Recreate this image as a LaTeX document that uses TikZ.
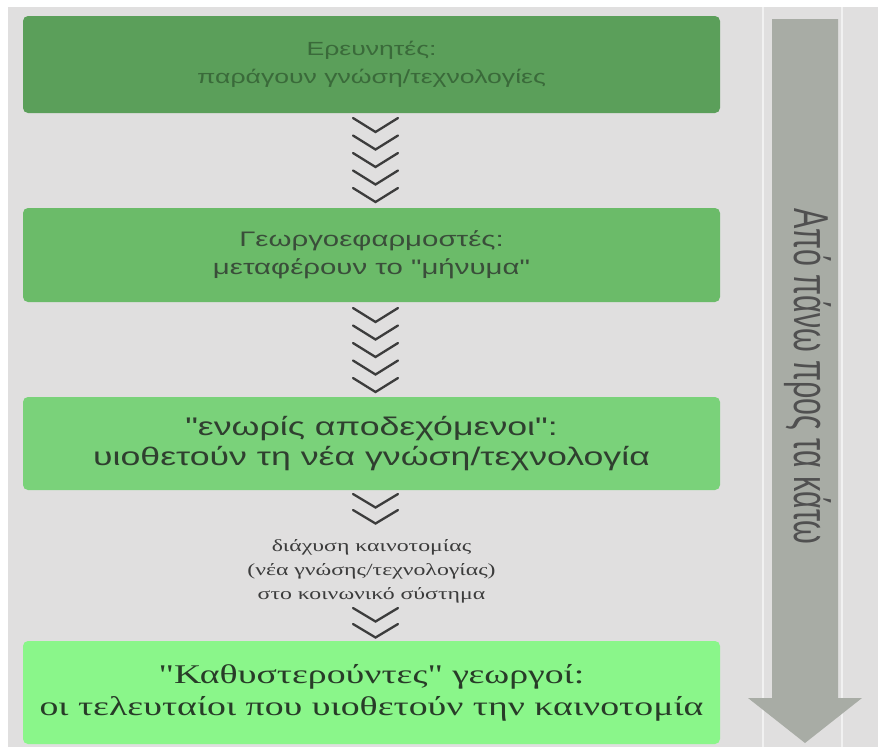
\documentclass[tikz,border=0pt]{standalone}
\usepackage{fontspec}
\setmainfont{Liberation Serif}[Ligatures=TeXOff]
\setsansfont{Liberation Sans}[Ligatures=TeXOff]
\usepackage{graphicx}
\definecolor{bgc}{HTML}{E0DFDF}
\definecolor{gone}{HTML}{5B9F5A}
\definecolor{gtwo}{HTML}{6BBB69}
\definecolor{gthree}{HTML}{7AD27A}
\definecolor{gfour}{HTML}{8AF68A}
\definecolor{tone}{HTML}{3A6A3A}
\definecolor{ttwo}{HTML}{3A4E3A}
\definecolor{tthree}{HTML}{2F3F2F}
\definecolor{tfour}{HTML}{283C28}
\definecolor{arrowc}{HTML}{A8ACA5}
\definecolor{chevc}{HTML}{3C3C3C}
\newcommand{\hstr}[1]{\scalebox{1.4}[1]{#1}}
\begin{document}
\begin{tikzpicture}[x=1pt,y=-1pt,
  boxstyle/.style={rounded corners=5pt, minimum width=697pt, inner sep=0pt, align=center},
  chev/.style={draw=chevc, line width=2.3pt, line cap=round, line join=miter},
]
\useasboundingbox (0,0) rectangle (878,747);
\fill[white] (0,0) rectangle (878,747);
\fill[bgc] (8,7) rectangle (878,747);
\draw[white!55!bgc, line width=1.2pt] (763,7) -- (763,747) (842,7) -- (842,747);

% boxes
\node[boxstyle, fill=gone, minimum height=97pt, text=tone,
      font=\sffamily\fontsize{19}{28}\selectfont] (b1) at (371.5,64.5)
  {\hstr{Ερευνητές:}\\\hstr{παράγουν γνώση/τεχνολογίες}};
\node[boxstyle, fill=gtwo, minimum height=94pt, text=ttwo,
      font=\sffamily\fontsize{21}{28}\selectfont] (b2) at (371.5,255)
  {\hstr{Γεωργοεφαρμοστές:}\\\hstr{μεταφέρουν το "μήνυμα"}};
\node[boxstyle, fill=gthree, minimum height=93pt, text=tthree,
      font=\sffamily\fontsize{25.5}{30}\selectfont] (b3) at (371.5,443.5)
  {\hstr{"ενωρίς αποδεχόμενοι":}\\\hstr{υιοθετούν τη νέα γνώση/τεχνολογία}};
\node[boxstyle, fill=gfour, minimum height=103pt, text=tfour,
      font=\rmfamily\fontsize{27}{32}\selectfont] (b4) at (371.5,692.5)
  {\hstr{"Καθυστερούντες" γεωργοί:}\\\hstr{οι τελευταίοι που υιοθετούν την καινοτομία}};

% middle text
\node[align=center, text=chevc, font=\rmfamily\fontsize{17}{24}\selectfont, inner sep=0pt] (mid) at (371.5,571)
  {\hstr{διάχυση καινοτομίας}\\\hstr{(νέα γνώσης/τεχνολογίας)}\\\hstr{στο κοινωνικό σύστημα}};

% chevrons
\foreach \i in {0,...,4} \draw[chev] (353,118+17.5*\i) -- ++(22.5,14) -- ++(22.5,-14);
\foreach \i in {0,...,4} \draw[chev] (353,308+17.5*\i) -- ++(22.5,14) -- ++(22.5,-14);
\foreach \i in {0,1} \draw[chev] (353,494+16*\i) -- ++(22.5,13.5) -- ++(22.5,-13.5);
\foreach \i in {0,1} \draw[chev] (353,608+16*\i) -- ++(22.5,13.5) -- ++(22.5,-13.5);

% big arrow
\fill[arrowc] (772,19) -- (838,19) -- (838,698) -- (862,698) -- (805,743) -- (748,698) -- (772,698) -- cycle;
\node[rotate=-90, anchor=base west, inner sep=0pt, text=chevc!90!white,
      font=\sffamily\fontsize{35}{35}\selectfont] (at) at (794,208)
  {\scalebox{0.87}[1.4]{Από πάνω προς τα κάτω}};
\end{tikzpicture}
\end{document}
